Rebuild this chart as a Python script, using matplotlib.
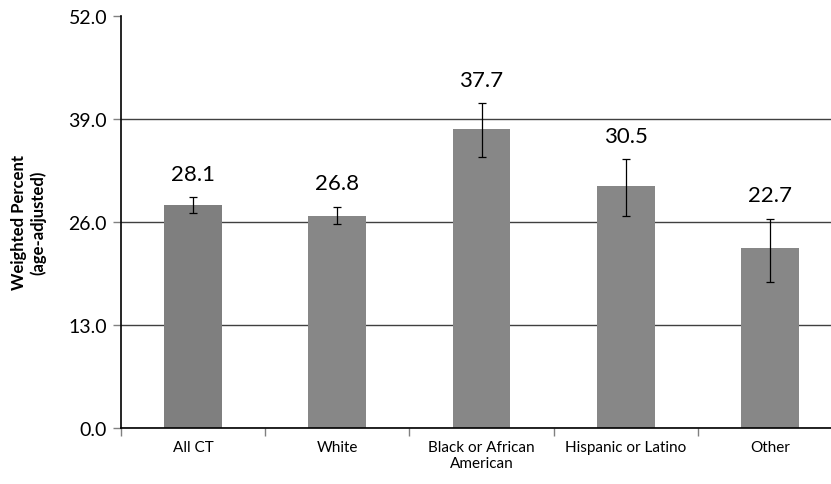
import matplotlib.pyplot as plt

plt.rcParams['font.family'] = ['Lato', 'DejaVu Sans']

categories = ['All CT', 'White', 'Black or African\nAmerican', 'Hispanic or Latino', 'Other']
percent = [28.1, 26.8, 37.7, 30.5, 22.7]
ci_low = [27.1, 25.8, 34.2, 26.8, 18.4]
ci_high = [29.1, 27.9, 41.0, 33.9, 26.4]
bar_colors = ['#7f7f7f', '#878787', '#878787', '#878787', '#878787']
y_ticks = [0, 13, 26, 39, 52]

fig = plt.figure(figsize=(8.31, 4.85), dpi=100)
ax = fig.add_axes([121 / 831, 56 / 485, 721 / 831, 412 / 485])

x = list(range(len(categories)))
err = [[p - lo for p, lo in zip(percent, ci_low)],
       [hi - p for p, hi in zip(percent, ci_high)]]

ax.bar(x, percent, width=0.4, color=bar_colors, zorder=2)
ax.errorbar(x, percent, yerr=err, fmt='none', ecolor='black',
            elinewidth=0.9, capsize=3, capthick=0.9, zorder=3)

for xi, p, hi in zip(x, percent, ci_high):
    ax.annotate(f'{p:.1f}', (xi, hi), xytext=(0, 17), textcoords='offset points',
                ha='center', va='center', fontsize=16)

ax.set_xlim(-0.5, len(categories) - 0.5)
ax.set_ylim(0, 52)
ax.set_yticks(y_ticks)
ax.set_yticklabels([f'{v:.1f}' for v in y_ticks], fontsize=14)
ax.set_xticks([i + 0.5 for i in range(-1, len(categories) - 1)], minor=False)
ax.set_xticklabels([])
ax.set_xticks(x, minor=True)
ax.set_xticklabels(categories, minor=True, fontsize=11, linespacing=1.1)
ax.tick_params(axis='x', which='minor', length=0, pad=9)
ax.tick_params(axis='x', which='major', length=6, color='#808080', width=1)
ax.tick_params(axis='y', length=6, width=1, color='#808080', pad=4)

ax.yaxis.grid(True, color='#404040', linewidth=1, zorder=0)
ax.set_axisbelow(True)
gl = ax.yaxis.get_gridlines()
gl[-1].set_visible(False)

for side in ['top', 'right']:
    ax.spines[side].set_visible(False)
ax.spines['left'].set_linewidth(1.2)
ax.spines['bottom'].set_linewidth(1.2)

ax.set_ylabel('Weighted Percent\n(age-adjusted)', fontsize=12, fontweight='bold',
              linespacing=1.2)
ax.yaxis.set_label_coords(-0.104, 0.5)

fig.savefig('out.png', dpi=100)
